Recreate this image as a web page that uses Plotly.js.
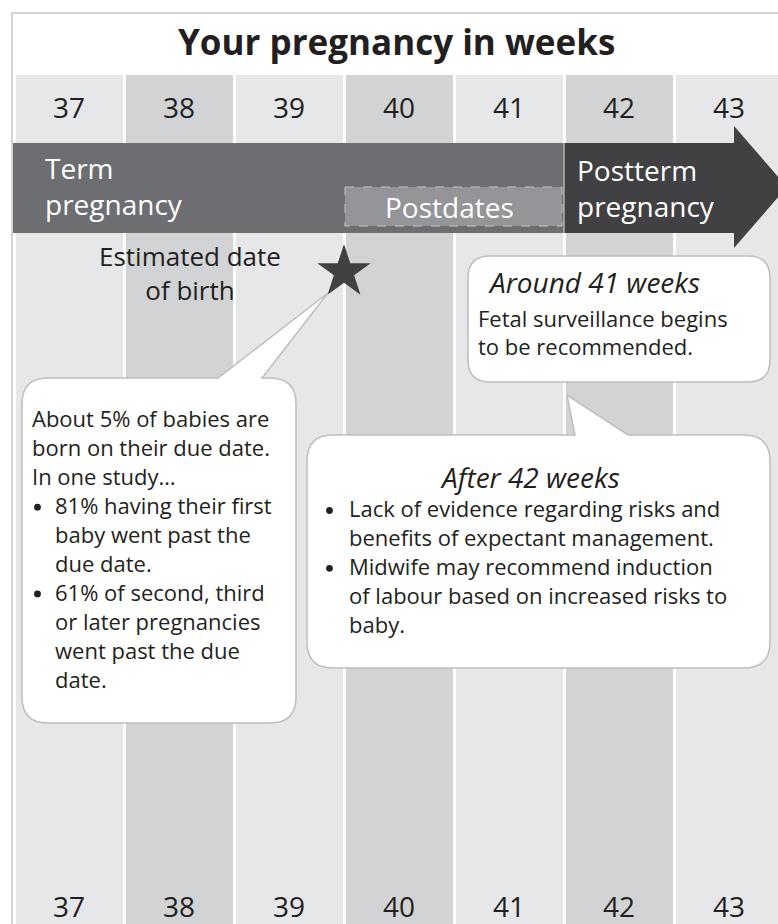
<!DOCTYPE html>
<html>
<head>
<meta charset="utf-8">
<script src="https://cdn.plot.ly/plotly-3.0.1.min.js"></script>
<style>html,body{margin:0;padding:0;background:#fff;}#chart{width:778px;height:924px;}</style>
</head>
<body>
<div id="chart"></div>
<script>
// ---- data ----
const weeks = [37, 38, 39, 40, 41, 42, 43];
const weekLabels = ['37', '38', '39', '40', '41', '42', '43'];
const titleText = 'Your pregnancy in weeks';
const termLabel = ['Term', 'pregnancy'];
const posttermLabel = ['Postterm', 'pregnancy'];
const postdatesLabel = 'Postdates';
const eddWeek = 40;
const eddLabel = ['Estimated date', 'of birth'];
const note1Intro = ['About 5% of babies are', 'born on their due date.', 'In one study\u2026'];
const note1Bullets = [
  ['81% having their first', 'baby went past the', 'due date.'],
  ['61% of second, third', 'or later pregnancies', 'went past the due', 'date.']
];
const note2Head = 'Around 41 weeks';
const note2Body = ['Fetal surveillance begins', 'to be recommended.'];
const note3Head = 'After 42 weeks';
const note3Bullets = [
  ['Lack of evidence regarding risks and', 'benefits of expectant management.'],
  ['Midwife may recommend induction', 'of labour based on increased risks to', 'baby.']
];

// ---- styling / layout helpers ----
const FONT = 'Open Sans, Noto Sans, sans-serif';
const INK = '#231f20';
const LIGHT = '#e6e7e8', DARK = '#d1d3d4';
const colTop = 75, pageH = 924;
const pitch = 110, firstLeft = 14;          // pixels per week, left edge of first column
const wMin = weeks[0] - 0.5 - firstLeft / pitch;
const wMax = wMin + 778 / pitch;

function ann(text, x, y, size, opts) {
  return Object.assign({
    text: text, x: x, y: y, xref: 'x2', yref: 'y',
    showarrow: false, xanchor: 'left', yanchor: 'middle', align: 'left',
    font: { family: FONT, size: size, color: INK }, borderpad: 0
  }, opts || {});
}
function mid(baseline, size) { return baseline - 0.39 * size; }
// centre of a two-line <br> block whose first baseline is b1 (line spacing 1.3em)
function mid2(b1, size) { return b1 + 0.65 * size - 0.39 * size; }

function calloutPath(x0, y0, x1, y1, r, ptr) {
  let p = `M${x0 + r},${y0} `;
  if (ptr) p += `L${ptr[0]},${y0} L${ptr[1]},${ptr[2]} L${ptr[3]},${y0} `;
  p += `L${x1 - r},${y0} Q${x1},${y0} ${x1},${y0 + r} L${x1},${y1 - r} Q${x1},${y1} ${x1 - r},${y1} ` +
       `L${x0 + r},${y1} Q${x0},${y1} ${x0},${y1 - r} L${x0},${y0 + r} Q${x0},${y0} ${x0 + r},${y0} Z`;
  return p;
}
function bulletDot(cx, cy) {
  const r = 3.4;
  return { type: 'circle', xref: 'x2', yref: 'y', x0: cx - r, x1: cx + r, y0: cy - r, y1: cy + r,
           line: { width: 0 }, fillcolor: INK, layer: 'above' };
}

// ---- traces ----
const columns = {
  type: 'bar', x: weeks, y: weeks.map(() => pageH - colTop), base: colTop,
  width: (pitch - 3) / pitch,
  marker: { color: weeks.map((w, i) => i % 2 ? DARK : LIGHT), line: { width: 0 } },
  hoverinfo: 'skip', showlegend: false, xaxis: 'x', yaxis: 'y'
};
const star = {
  type: 'scatter', mode: 'markers', x: [eddWeek - 0.5], y: [272],
  marker: { symbol: 'star', size: 40, color: '#414042', line: { width: 0 } },
  hoverinfo: 'skip', showlegend: false, xaxis: 'x', yaxis: 'y'
};
const pixelAxisAnchor = {
  type: 'scatter', mode: 'markers', x: [0], y: [0], marker: { opacity: 0 },
  hoverinfo: 'skip', showlegend: false, xaxis: 'x2', yaxis: 'y'
};

// ---- shapes ----
const calloutLine = { color: '#bcbec0', width: 1.5 };
const shapes = [
  { type: 'rect', xref: 'x2', yref: 'y', x0: 12, y0: 13, x1: 800, y1: 950,
    line: { color: '#d1d3d4', width: 2 }, fillcolor: '#ffffff', layer: 'below' },
  { type: 'rect', xref: 'x2', yref: 'y', x0: 13, y0: 143, x1: 564, y1: 233,
    line: { width: 0 }, fillcolor: '#6d6e71', layer: 'above' },
  { type: 'path', xref: 'x2', yref: 'y', path: 'M564,143 L734,143 L734,126 L787,187 L734,248 L734,233 L564,233 Z',
    line: { width: 0 }, fillcolor: '#414042', layer: 'above' },
  { type: 'line', xref: 'x2', yref: 'y', x0: 564, x1: 564, y0: 143, y1: 233,
    line: { color: '#c9cacc', width: 1.2 }, layer: 'above' },
  { type: 'rect', xref: 'x2', yref: 'y', x0: 345, y0: 187, x1: 562, y1: 226,
    line: { color: '#c2c3c5', width: 1, dash: 'dash' }, fillcolor: '#939598', layer: 'above' },
  { type: 'path', xref: 'x2', yref: 'y', path: calloutPath(22, 378, 296, 723, 26, [218, 328, 293, 262]),
    line: calloutLine, fillcolor: '#ffffff', layer: 'above' },
  { type: 'path', xref: 'x2', yref: 'y', path: calloutPath(468, 256, 770, 382, 22, null),
    line: calloutLine, fillcolor: '#ffffff', layer: 'above' },
  { type: 'path', xref: 'x2', yref: 'y', path: calloutPath(307, 435, 770, 668, 26, [575, 567, 395, 628]),
    line: calloutLine, fillcolor: '#ffffff', layer: 'above' }
];

// ---- annotations ----
const anns = [];
anns.push(ann('<b>' + titleText + '</b>', 396, mid(55, 35), 35, { xanchor: 'center' }));
weeks.forEach((w, i) => {
  anns.push(ann(weekLabels[i], w, mid(118, 28), 28, { xref: 'x', xanchor: 'center' }));
  anns.push(ann(weekLabels[i], w, mid(917, 28), 28, { xref: 'x', xanchor: 'center' }));
});
const white = { family: FONT, size: 28, color: '#ffffff' };
anns.push(ann(termLabel.join('<br>'), 44, mid2(179, 28), 28, { font: white }));
anns.push(ann(posttermLabel.join('<br>'), 576, mid2(181, 28), 28, { font: white }));
anns.push(ann(postdatesLabel, 449, mid(218, 28), 28, { font: white, xanchor: 'center' }));
anns.push(ann(eddLabel.join('<br>'), 190, mid2(266, 26), 26, { xanchor: 'center', align: 'center' }));

// note 1
const BS = 22, LS = 28.9;
let b = 427;
note1Intro.forEach(t => { anns.push(ann(t, 31, mid(b, BS), BS)); b += LS; });
note1Bullets.forEach(lines => {
  shapes.push(bulletDot(37.5, b - 6.5));
  lines.forEach(t => { anns.push(ann(t, 54, mid(b, BS), BS)); b += LS; });
});
// note 2
anns.push(ann('<i>' + note2Head + '</i>', 487, mid(293, 28), 28));
anns.push(ann(note2Body[0], 477, mid(327, BS), BS));
anns.push(ann(note2Body[1], 477, mid(355, BS), BS));
// note 3
anns.push(ann('<i>' + note3Head + '</i>', 530, mid(488, 28), 28, { xanchor: 'center' }));
b = 517;
note3Bullets.forEach(lines => {
  shapes.push(bulletDot(329.5, b - 6.5));
  lines.forEach(t => { anns.push(ann(t, 348, mid(b, BS), BS)); b += LS; });
});

const layout = {
  width: 778, height: 924,
  margin: { l: 0, r: 0, t: 0, b: 0, pad: 0 },
  paper_bgcolor: '#ffffff', plot_bgcolor: 'rgba(0,0,0,0)',
  showlegend: false, bargap: 0,
  xaxis: { range: [wMin, wMax], visible: false, fixedrange: true },
  xaxis2: { range: [0, 778], overlaying: 'x', visible: false, fixedrange: true },
  yaxis: { range: [pageH, 0], visible: false, fixedrange: true },
  shapes: shapes,
  annotations: anns
};

Plotly.newPlot('chart', [columns, pixelAxisAnchor, star], layout, { displayModeBar: false, staticPlot: true });
</script>
</body>
</html>
